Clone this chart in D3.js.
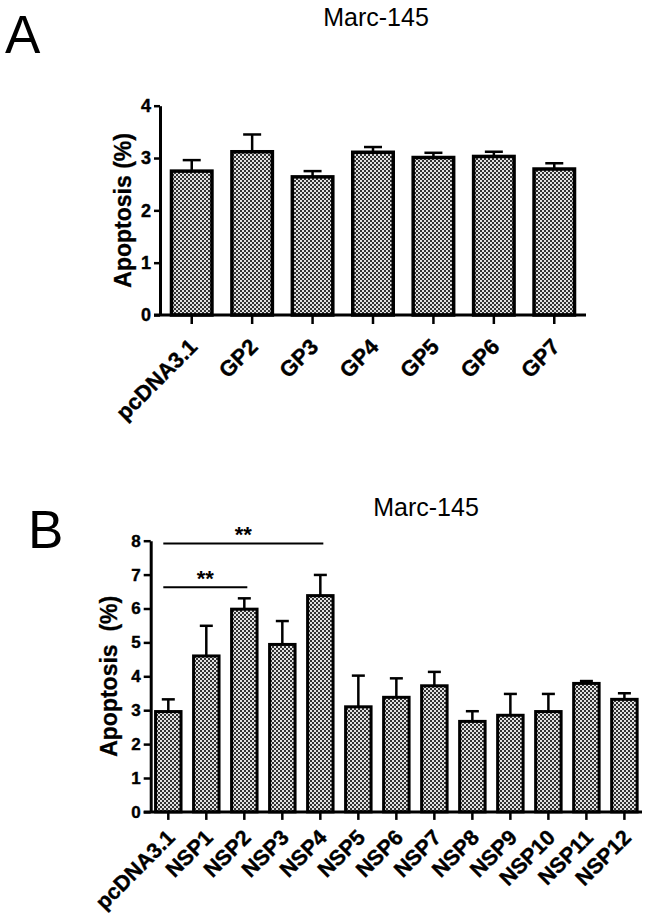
<!DOCTYPE html>
<html><head><meta charset="utf-8">
<script src="https://cdn.jsdelivr.net/npm/d3@7"></script>
<style>
body{margin:0;background:#fff}
text{font-family:"Liberation Sans",Arial,Helvetica,sans-serif}
</style>
</head><body>
<svg id="chart" width="653" height="918"></svg>
<script>
// ---- Data ----
const catsA = ["pcDNA3.1","GP2","GP3","GP4","GP5","GP6","GP7"];
const valsA = [2.75, 3.12, 2.64, 3.11, 3.01, 3.03, 2.79];
const errsA = [0.21, 0.33, 0.11, 0.10, 0.09, 0.09, 0.11];
const yTicksA = [0,1,2,3,4];

const catsB = ["pcDNA3.1","NSP1","NSP2","NSP3","NSP4","NSP5","NSP6","NSP7","NSP8","NSP9","NSP10","NSP11","NSP12"];
const valsB = [2.96, 4.60, 5.98, 4.94, 6.38, 3.10, 3.38, 3.72, 2.67, 2.85, 2.96, 3.79, 3.32];
const errsB = [0.36, 0.89, 0.32, 0.69, 0.61, 0.92, 0.56, 0.41, 0.30, 0.63, 0.52, 0.07, 0.18];
const yTicksB = [0,1,2,3,4,5,6,7,8];

const sigFrom = ["pcDNA3.1","pcDNA3.1"];
const sigTo = ["NSP4","NSP2"];
const sigY = [7.92, 6.63];
const sigLabel = ["**","**"];

const yTitle = ["Apoptosis (%)", "Apoptosis  (%)"];
const panelTitles = ["Marc-145","Marc-145"];
const panelLetters = ["A","B"];

// ---- Drawing ----
const svg = d3.select("#chart");
const defs = svg.append("defs");
const pat = defs.append("pattern").attr("id","checker")
  .attr("width",4).attr("height",4).attr("patternUnits","userSpaceOnUse");
pat.append("rect").attr("width",4).attr("height",4).attr("fill","#333");
pat.append("rect").attr("x",0).attr("y",0).attr("width",2).attr("height",2).attr("fill","#e2e2e2");
pat.append("rect").attr("x",2).attr("y",2).attr("width",2).attr("height",2).attr("fill","#e2e2e2");

const FONT = "'Liberation Sans',Arial,sans-serif";

function panel(cfg){
  const g = svg.append("g");
  const x = d3.scaleBand().domain(cfg.cats).range(cfg.xr)
    .paddingInner(cfg.pi).paddingOuter(cfg.po);
  const y = d3.scaleLinear().domain([0, d3.max(cfg.yTicks)]).range(cfg.yr);

  // bars
  g.selectAll("rect.bar").data(cfg.vals).enter().append("rect")
    .attr("class","bar")
    .attr("x",(d,i)=>x(cfg.cats[i]))
    .attr("width",x.bandwidth())
    .attr("y",d=>y(d))
    .attr("height",d=>y(0)-y(d))
    .attr("fill","url(#checker)")
    .attr("stroke","#000").attr("stroke-width",cfg.barStroke);

  // error bars (upper only)
  cfg.vals.forEach((v,i)=>{
    const cx = x(cfg.cats[i]) + x.bandwidth()/2;
    g.append("line").attr("x1",cx).attr("x2",cx)
      .attr("y1",y(v)).attr("y2",y(v+cfg.errs[i]))
      .attr("stroke","#000").attr("stroke-width",cfg.errStroke);
    g.append("line").attr("x1",cx-cfg.cap/2).attr("x2",cx+cfg.cap/2)
      .attr("y1",y(v+cfg.errs[i])).attr("y2",y(v+cfg.errs[i]))
      .attr("stroke","#000").attr("stroke-width",cfg.errStroke);
  });

  // y axis
  const ya = g.append("g").attr("transform",`translate(${cfg.xr[0]},0)`)
    .call(d3.axisLeft(y).tickValues(cfg.yTicks).tickFormat(d3.format("d"))
      .tickSize(cfg.yTickSize).tickSizeOuter(0).tickPadding(3));
  ya.select(".domain").attr("stroke-width",cfg.axisStroke).attr("stroke","#000");
  ya.selectAll(".tick line").attr("stroke-width",cfg.tickStroke);
  ya.selectAll(".tick text").attr("font-size",cfg.yTickFont).attr("font-weight","bold")
    .attr("fill","#000").attr("stroke","#000").attr("stroke-width",0.4)
    .attr("font-family",FONT);

  // x axis
  const xa = g.append("g").attr("transform",`translate(0,${cfg.yr[0]})`)
    .call(d3.axisBottom(x).tickSize(cfg.xTickSize).tickSizeOuter(0));
  xa.select(".domain").attr("stroke-width",cfg.axisStroke).attr("stroke","#000")
    .attr("d",`M${cfg.xr[0]-cfg.yTickSize},0H${cfg.xr[1]}`);
  xa.selectAll(".tick line").attr("stroke-width",cfg.tickStroke);
  xa.selectAll(".tick text")
    .attr("font-size",cfg.xTickFont).attr("font-weight","bold").attr("fill","#000")
    .attr("stroke","#000").attr("stroke-width",0.4)
    .attr("font-family",FONT)
    .attr("text-anchor","end").attr("dy",null).attr("y",null)
    .attr("transform",`translate(${cfg.xlab[0]},${cfg.xlab[1]}) rotate(-45)`);

  // y title
  g.append("text")
    .attr("transform",`translate(${cfg.yTitlePos[0]},${(cfg.yr[0]+cfg.yr[1])/2}) rotate(-90)`)
    .attr("text-anchor","middle").attr("font-size",cfg.yTitleFont).attr("font-weight","bold")
    .attr("stroke","#000").attr("stroke-width",0.3)
    .style("white-space","pre")
    .text(cfg.yTitle);

  // panel title
  g.append("text").attr("x",cfg.titlePos[0]).attr("y",cfg.titlePos[1])
    .attr("text-anchor","middle").attr("font-size",25).text(cfg.title);
  // panel letter
  g.append("text").attr("x",cfg.letterPos[0]).attr("y",cfg.letterPos[1])
    .attr("font-size",53).text(cfg.letter);

  return {g,x,y};
}

const A = panel({
  cats:catsA, vals:valsA, errs:errsA, yTicks:yTicksA,
  xr:[160,586], yr:[315,105.7], pi:0.33, po:0.19,
  barStroke:3.5, errStroke:2.5, cap:18, axisStroke:3, tickStroke:2.5,
  yTickSize:6, xTickSize:9, yTickFont:18, xTickFont:22,
  xlab:[7,33], yTitle:yTitle[0], yTitleFont:23, yTitlePos:[131],
  title:panelTitles[0], titlePos:[376,26], letter:panelLetters[0], letterPos:[5,53]
});

const B = panel({
  cats:catsB, vals:valsB, errs:errsB, yTicks:yTicksB,
  xr:[150.7,642], yr:[811.9,540.7], pi:0.33, po:0.128,
  barStroke:3, errStroke:2.5, cap:13, axisStroke:3, tickStroke:2.5,
  yTickSize:7, xTickSize:8, yTickFont:17, xTickFont:21.5,
  xlab:[8,27], yTitle:yTitle[1], yTitleFont:23, yTitlePos:[117],
  title:panelTitles[1], titlePos:[426,516], letter:panelLetters[1], letterPos:[28,548]
});

// significance brackets in panel B
sigFrom.forEach((f,i)=>{
  const x1 = B.x(f) + B.x.bandwidth()/2 - 5;
  const x2 = B.x(sigTo[i]) + B.x.bandwidth()/2 + 3;
  const yy = B.y(sigY[i]);
  B.g.append("line").attr("x1",x1).attr("x2",x2).attr("y1",yy).attr("y2",yy)
    .attr("stroke","#000").attr("stroke-width",2);
  B.g.append("text").attr("x",(x1+x2)/2).attr("y",yy-1)
    .attr("text-anchor","middle").attr("font-size",22).attr("font-weight","bold")
    .text(sigLabel[i]);
});
</script>
</body></html>
